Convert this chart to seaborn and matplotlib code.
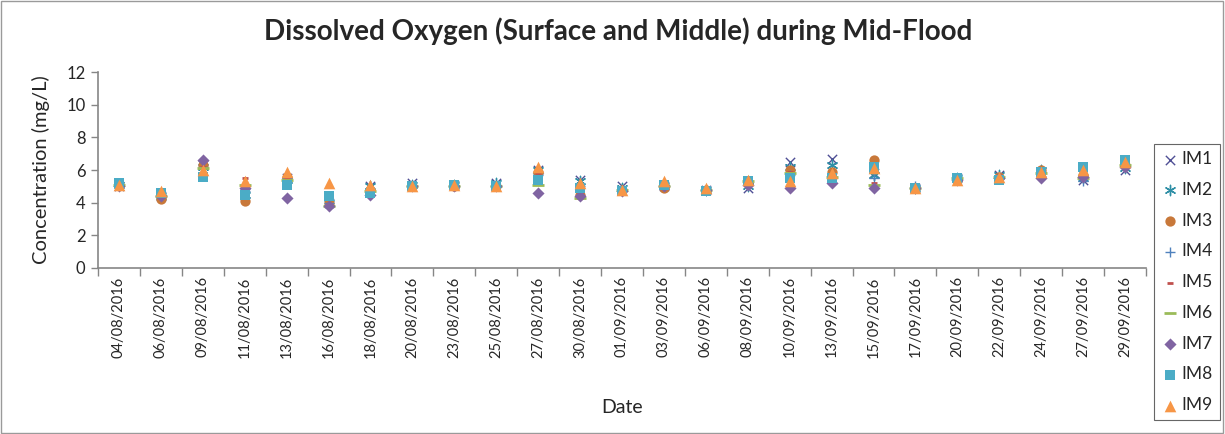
import matplotlib
matplotlib.use("Agg")
import matplotlib.pyplot as plt
import numpy as np
import pandas as pd
import seaborn as sns
from matplotlib.patches import Rectangle
from matplotlib.ticker import FixedLocator

dates = ["04/08/2016","06/08/2016","09/08/2016","11/08/2016","13/08/2016","16/08/2016",
         "18/08/2016","20/08/2016","23/08/2016","25/08/2016","27/08/2016","30/08/2016",
         "01/09/2016","03/09/2016","06/09/2016","08/09/2016","10/09/2016","13/09/2016",
         "15/09/2016","17/09/2016","20/09/2016","22/09/2016","24/09/2016","27/09/2016",
         "29/09/2016"]

IM1 = [5.0,4.4,6.3,4.6,5.5,4.0,5.0,5.2,5.1,5.2,6.0,5.4,5.0,5.0,4.8,4.9,6.5,6.7,5.8,4.9,5.5,5.7,5.9,5.4,6.0]
IM2 = [5.1,4.4,6.2,4.5,5.4,4.0,5.0,5.1,5.1,5.2,6.0,5.3,4.9,5.0,4.8,5.0,6.2,6.3,5.7,4.9,5.5,5.7,6.0,5.5,6.1]
IM3 = [5.1,4.2,6.3,4.1,5.6,4.0,4.8,5.0,5.0,5.0,5.9,4.5,4.8,4.9,4.8,5.2,6.0,5.9,6.6,4.9,5.4,5.6,6.0,5.7,6.3]
IM4 = [5.1,4.4,6.2,4.7,5.5,4.0,4.7,5.0,5.0,5.0,5.7,5.0,4.8,5.0,4.8,5.2,5.7,5.6,5.5,5.0,5.5,5.5,5.9,5.3,6.2]
IM5 = [5.1,4.4,6.2,5.5,5.5,3.9,4.7,5.0,5.0,5.0,5.8,4.6,4.9,5.1,4.8,5.5,5.9,5.7,5.2,4.9,5.5,5.6,5.9,5.5,6.3]
IM6 = [5.1,4.4,6.1,5.1,5.4,3.8,4.7,5.0,5.0,5.0,5.1,4.3,4.8,5.0,4.8,5.3,5.8,5.6,5.1,4.9,5.5,5.6,5.8,5.5,6.3]
IM7 = [5.0,4.4,6.6,4.9,4.3,3.8,4.5,5.0,5.0,5.0,4.6,4.4,4.7,5.0,4.8,5.1,4.9,5.2,4.9,4.9,5.4,5.5,5.5,5.6,6.2]
IM8 = [5.2,4.6,5.6,4.5,5.1,4.4,4.6,5.0,5.1,5.0,5.4,4.9,4.7,5.1,4.7,5.3,5.5,5.5,6.2,4.9,5.5,5.4,5.9,6.2,6.6]
IM9 = [5.1,4.7,6.0,5.3,5.9,5.2,5.1,5.0,5.1,5.0,6.2,5.2,4.8,5.3,4.9,5.4,5.3,5.8,6.1,4.9,5.4,5.6,5.9,6.0,6.5]

series_names = ["IM1","IM2","IM3","IM4","IM5","IM6","IM7","IM8","IM9"]
series_vals = [IM1, IM2, IM3, IM4, IM5, IM6, IM7, IM8, IM9]

styles = {
    "IM1": dict(marker="x", color="#4F4F95", s=45, lw=1.0),
    "IM2": dict(marker=(6, 2, 0), color="#2F8FA6", s=55, lw=1.0),
    "IM3": dict(marker="o", color="#C8783A", s=55, lw=0),
    "IM4": dict(marker="+", color="#4F81BD", s=60, lw=1.0),
    "IM5": dict(marker="_", color="#C0504D", s=25, lw=2.0),
    "IM6": dict(marker="_", color="#9BBB59", s=70, lw=2.0),
    "IM7": dict(marker="D", color="#8064A2", s=38, lw=0),
    "IM8": dict(marker="s", color="#4BACC6", s=60, lw=0),
    "IM9": dict(marker="^", color="#F79646", s=70, lw=0),
}

sns.set_theme(style="white")
plt.rcParams["font.family"] = ["Lato", "DejaVu Sans"]

fig = plt.figure(figsize=(12.25, 4.34), dpi=100)
ax = fig.add_axes([0.0800, 0.3825, 0.8555, 0.4515])

x_pos = np.arange(len(dates))
for name, vals in zip(series_names, series_vals):
    st = styles[name]
    df = pd.DataFrame({"pos": x_pos, "val": vals})
    sns.scatterplot(data=df, x="pos", y="val", ax=ax, marker=st["marker"],
                    color=st["color"], s=st["s"], linewidth=st["lw"],
                    edgecolor=st["color"] if st["lw"] == 0 else None,
                    label=name, legend=False, zorder=3)

ax.set_xlim(-0.5, len(dates) - 0.5)
ax.set_ylim(0, 12)
ax.set_yticks(np.arange(0, 13, 2))
ax.set_xticks(x_pos)
ax.set_xticklabels(dates, rotation=90, fontsize=10.5)
ax.xaxis.set_minor_locator(FixedLocator(np.arange(-0.5, len(dates), 1.0)))
ax.tick_params(axis="x", which="major", length=0, pad=6)
ax.tick_params(axis="x", which="minor", length=6, color="#868686", width=1, direction="out", bottom=True)
ax.tick_params(axis="y", which="major", length=5, color="#868686", width=1, direction="out", left=True, labelsize=12, pad=4)
for lab in ax.get_yticklabels():
    lab.set_color("#262626")
for sp in ["top", "right"]:
    ax.spines[sp].set_visible(False)
for sp in ["left", "bottom"]:
    ax.spines[sp].set_color("#868686")
    ax.spines[sp].set_linewidth(1.2)
ax.grid(False)

ax.set_xlabel("Date", fontsize=14, labelpad=30)
ax.set_ylabel("Concentration (mg/L)", fontsize=14.5, labelpad=12)

fig.suptitle("Dissolved Oxygen (Surface and Middle) during Mid-Flood",
             fontsize=20, x=0.505, y=0.96, fontweight="bold")

handles, labels = ax.get_legend_handles_labels()
leg = fig.legend(handles, labels, loc="center left", bbox_to_anchor=(0.935, 0.35),
                 frameon=True, fontsize=12.5, labelspacing=0.85, handletextpad=0.2,
                 borderpad=0.4, handlelength=1.0, fancybox=False)
leg.get_frame().set_edgecolor("#404040")
leg.get_frame().set_linewidth(0.8)

fig.patches.append(Rectangle((0.001, 0.002), 0.997, 0.995, transform=fig.transFigure,
                             fill=False, edgecolor="#9a9a9a", linewidth=1.0))

fig.savefig("out.png", dpi=100)
